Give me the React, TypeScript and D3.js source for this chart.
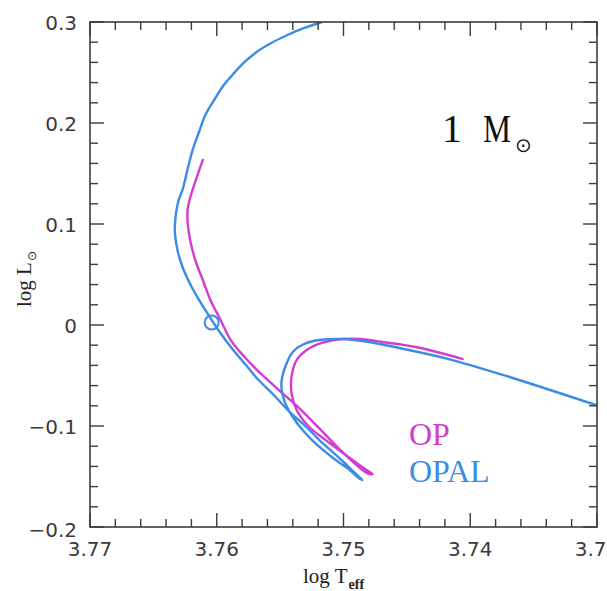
import React from "react";
import * as d3 from "d3";

// Evolutionary tracks of a 1 solar-mass star: [log Teff, log L]
const opalTrack: [number, number][] = [
  [3.7301, -0.0792], [3.7369, -0.0515], [3.7417, -0.0337], [3.7456, -0.0228],
  [3.748, -0.0168], [3.7501, -0.0139], [3.7519, -0.0149], [3.7531, -0.0188],
  [3.754, -0.0267], [3.7546, -0.0416], [3.7549, -0.0574], [3.7548, -0.0693],
  [3.7545, -0.0802], [3.754, -0.0911], [3.7533, -0.103], [3.7524, -0.1149],
  [3.7515, -0.1248], [3.7505, -0.1347], [3.7495, -0.1436], [3.7489, -0.1505],
  [3.7485, -0.1535], [3.7491, -0.1465], [3.7495, -0.1416], [3.7506, -0.1287],
  [3.7519, -0.1139], [3.7531, -0.099], [3.7544, -0.0842], [3.7555, -0.0693],
  [3.7567, -0.0545], [3.7577, -0.0396], [3.7587, -0.0248], [3.7596, -0.0099],
  [3.7604, 0.005], [3.7614, 0.0248], [3.7621, 0.0406], [3.7627, 0.0574],
  [3.7631, 0.0743], [3.7633, 0.0911], [3.7633, 0.099], [3.7632, 0.1119],
  [3.763, 0.1238], [3.7627, 0.1337], [3.7625, 0.1436], [3.7622, 0.1594],
  [3.7619, 0.1733], [3.7614, 0.1911], [3.7609, 0.2079], [3.7602, 0.2228],
  [3.7595, 0.2366], [3.7587, 0.2485], [3.7578, 0.2604], [3.7568, 0.2708],
  [3.7557, 0.2792], [3.7545, 0.2866], [3.7532, 0.2936], [3.7517, 0.3],
];

const opTrack: [number, number][] = [
  [3.7406, -0.0337], [3.7443, -0.0218], [3.7469, -0.0168], [3.7487, -0.0139],
  [3.7501, -0.0139], [3.7517, -0.0178], [3.7529, -0.0248], [3.7537, -0.0347],
  [3.7541, -0.0515], [3.7541, -0.0673], [3.7537, -0.0842], [3.7527, -0.101],
  [3.7511, -0.1168], [3.7495, -0.1317], [3.7483, -0.1426], [3.7477, -0.1475],
  [3.748, -0.1475], [3.7487, -0.1416], [3.7501, -0.1257], [3.7517, -0.105],
  [3.7535, -0.0822], [3.7551, -0.0644], [3.7565, -0.0485], [3.7578, -0.0317],
  [3.7589, -0.0149], [3.7597, 0.005], [3.7605, 0.0248], [3.7611, 0.0446],
  [3.7617, 0.0644], [3.7621, 0.0842], [3.7623, 0.102], [3.7623, 0.1139],
  [3.7621, 0.1257], [3.7617, 0.1416], [3.7611, 0.1634],
];

// The present Sun on the track
const sunPoint: [number, number] = [3.7604, 0.0025];

const xMajorTicks = [3.77, 3.76, 3.75, 3.74, 3.73];
const xTickLabels = ["3.77", "3.76", "3.75", "3.74", "3.73"];
const yMajorTicks = [-0.2, -0.1, 0, 0.1, 0.2, 0.3];
const yTickLabels = ["\u22120.2", "\u22120.1", "0", "0.1", "0.2", "0.3"];

const W = 607;
const H = 591;
const left = 90, right = 597, top = 22, bottom = 527;

const BLUE = "#3a8ce6";
const MAGENTA = "#d43ccf";
const AXIS = "#3c3c3c";

export default function App() {
  const x = d3.scaleLinear().domain([3.77, 3.73]).range([left, right]);
  const y = d3.scaleLinear().domain([-0.2, 0.3]).range([bottom, top]);

  const line = d3
    .line<[number, number]>()
    .x((d) => x(d[0]))
    .y((d) => y(d[1]))
    .curve(d3.curveCatmullRom.alpha(0.5));

  const xMinor = d3.range(0, 21).map((i) => 3.77 - i * 0.002);
  const yMinor = d3.range(0, 26).map((i) => -0.2 + i * 0.02);
  const isMajor = (v: number, step: number) =>
    Math.abs(v / step - Math.round(v / step)) < 1e-6;

  const tickFont = "'DejaVu Sans', sans-serif";
  const serif = "'Liberation Serif', 'Times New Roman', serif";

  return (
    <svg
      width={W}
      height={H}
      style={{ position: "fixed", left: 0, top: 0, background: "#fff" }}
    >
      <defs>
        <clipPath id="plotArea">
          <rect x={left} y={top} width={right - left} height={bottom - top} />
        </clipPath>
      </defs>

      {/* tracks */}
      <g clipPath="url(#plotArea)" fill="none" strokeWidth={2.4} strokeLinejoin="round" strokeLinecap="round">
        <path d={line(opTrack) ?? ""} stroke={MAGENTA} />
        <path d={line(opalTrack) ?? ""} stroke={BLUE} />
        <circle cx={x(sunPoint[0])} cy={y(sunPoint[1])} r={7} stroke={BLUE} strokeWidth={2} />
      </g>

      {/* frame */}
      <rect
        x={left}
        y={top}
        width={right - left}
        height={bottom - top}
        fill="none"
        stroke={AXIS}
        strokeWidth={1.6}
      />

      {/* ticks on all four sides */}
      <g stroke={AXIS} strokeWidth={1.4}>
        {xMinor.map((v, i) => {
          const len = isMajor(v, 0.01) ? 14 : 8;
          const px = x(v);
          return (
            <g key={`xt${i}`}>
              <line x1={px} x2={px} y1={bottom} y2={bottom - len} />
              <line x1={px} x2={px} y1={top} y2={top + len} />
            </g>
          );
        })}
        {yMinor.map((v, i) => {
          const len = isMajor(v, 0.1) ? 14 : 8;
          const py = y(v);
          return (
            <g key={`yt${i}`}>
              <line x1={left} x2={left + len} y1={py} y2={py} />
              <line x1={right} x2={right - len} y1={py} y2={py} />
            </g>
          );
        })}
      </g>

      {/* tick labels */}
      <g fontFamily={tickFont} fontSize={20} fill="#3a3a3a">
        {xMajorTicks.map((v, i) => (
          <text key={`xl${i}`} x={x(v)} y={556} textAnchor="middle">
            {xTickLabels[i]}
          </text>
        ))}
        {yMajorTicks.map((v, i) => (
          <text key={`yl${i}`} x={77} y={y(v) + 7.5 + (i === 0 ? 2 : 0)} textAnchor="end">
            {yTickLabels[i]}
          </text>
        ))}
      </g>

      {/* axis titles */}
      <text x={303} y={583} fontFamily={serif} fontSize={21} fill="#222">
        log T
        <tspan dx={1} dy={6} fontSize={14} fontWeight="bold">eff</tspan>
      </text>
      <text
        transform="translate(31,307) rotate(-90)"
        fontFamily={serif}
        fontSize={21}
        fill="#222"
      >
        log L
        <tspan dx={1} dy={5} fontSize={12} fontFamily="'DejaVu Sans', sans-serif">⊙</tspan>
      </text>

      {/* mass label */}
      <text x={442} y={142} fontFamily={serif} fontSize={40} fill="#111">
        1
        <tspan x={483} textLength={28} lengthAdjust="spacingAndGlyphs">M</tspan>
        <tspan x={515} dy={10} fontFamily="'DejaVu Sans', sans-serif" fontSize={20}>⊙</tspan>
      </text>

      {/* legend */}
      <text x={409} y={445} fontFamily={serif} fontSize={32} fill={MAGENTA}>OP</text>
      <text x={409} y={482} fontFamily={serif} fontSize={32} fill={BLUE}>OPAL</text>
    </svg>
  );
}
